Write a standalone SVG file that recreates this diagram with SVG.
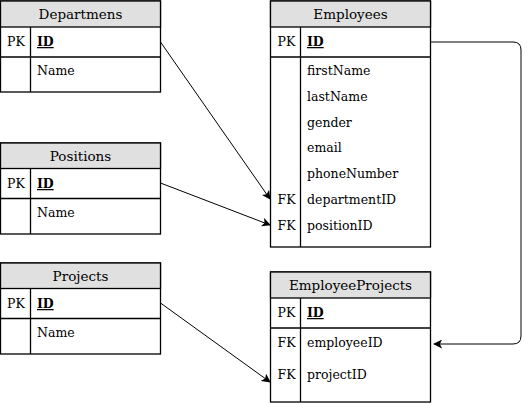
<svg xmlns="http://www.w3.org/2000/svg" width="529" height="403" viewBox="0 0 529 403">
<style>
.box{fill:#fff;stroke:#000;stroke-width:1.3}
.hdr{fill:#e0e0e0;stroke:#000;stroke-width:1.3}
.ln{stroke:#000;stroke-width:1.3;fill:none}
.t{font-family:"DejaVu Serif",serif;font-size:12.5px;fill:#000}
.h{font-family:"DejaVu Serif",serif;font-size:13.5px;fill:#000;text-anchor:middle}
.b{font-weight:bold;text-decoration:underline}
.c{stroke:#000;stroke-width:1;fill:none;marker-end:url(#arr)}
</style>
<defs>
<marker id="arr" viewBox="0 0 10 10" refX="9" refY="5" markerWidth="9" markerHeight="9" markerUnits="userSpaceOnUse" orient="auto">
<path d="M0,0 L10,5 L0,10 L2.5,5 z" fill="#000"/>
</marker>
</defs>
<g id="departmens">
<rect class="box" x="0.5" y="1" width="160" height="91"/>
<rect class="hdr" x="0.5" y="1" width="160" height="26"/>
<line class="ln" x1="0.5" y1="57" x2="160.5" y2="57"/>
<line class="ln" x1="30.5" y1="27" x2="30.5" y2="92"/>
<text class="h" x="80.5" y="19">Departmens</text>
<text class="t" x="7" y="46">PK</text>
<text class="t b" x="37" y="46">ID</text>
<text class="t" x="37" y="75">Name</text>
</g>
<g id="positions">
<rect class="box" x="0.5" y="143" width="160" height="91"/>
<rect class="hdr" x="0.5" y="143" width="160" height="25.5"/>
<line class="ln" x1="0.5" y1="198.5" x2="160.5" y2="198.5"/>
<line class="ln" x1="30.5" y1="168.5" x2="30.5" y2="234"/>
<text class="h" x="80.5" y="161">Positions</text>
<text class="t" x="7" y="188">PK</text>
<text class="t b" x="37" y="188">ID</text>
<text class="t" x="37" y="217">Name</text>
</g>
<g id="projects">
<rect class="box" x="0.5" y="263" width="160" height="91"/>
<rect class="hdr" x="0.5" y="263" width="160" height="25.5"/>
<line class="ln" x1="0.5" y1="318.5" x2="160.5" y2="318.5"/>
<line class="ln" x1="30.5" y1="288.5" x2="30.5" y2="354"/>
<text class="h" x="80.5" y="281">Projects</text>
<text class="t" x="7" y="308">PK</text>
<text class="t b" x="37" y="308">ID</text>
<text class="t" x="37" y="337">Name</text>
</g>
<g id="employees">
<rect class="box" x="270.5" y="1" width="160" height="246"/>
<rect class="hdr" x="270.5" y="1" width="160" height="26"/>
<line class="ln" x1="270.5" y1="57" x2="430.5" y2="57"/>
<line class="ln" x1="300.5" y1="27" x2="300.5" y2="247"/>
<text class="h" x="350.5" y="19">Employees</text>
<text class="t" x="277.5" y="46">PK</text>
<text class="t b" x="307" y="46">ID</text>
<text class="t" x="307" y="75">firstName</text>
<text class="t" x="307" y="101">lastName</text>
<text class="t" x="307" y="127">gender</text>
<text class="t" x="307" y="152">email</text>
<text class="t" x="307" y="178">phoneNumber</text>
<text class="t" x="277.5" y="204">FK</text>
<text class="t" x="307" y="204">departmentID</text>
<text class="t" x="277.5" y="230">FK</text>
<text class="t" x="307" y="230">positionID</text>
</g>
<g id="employeeprojects">
<rect class="box" x="270.5" y="272" width="160" height="130"/>
<rect class="hdr" x="270.5" y="272" width="160" height="26"/>
<line class="ln" x1="270.5" y1="328" x2="430.5" y2="328"/>
<line class="ln" x1="300.5" y1="298" x2="300.5" y2="402"/>
<text class="h" x="350.5" y="290">EmployeeProjects</text>
<text class="t" x="277.5" y="317">PK</text>
<text class="t b" x="307" y="317">ID</text>
<text class="t" x="277.5" y="347">FK</text>
<text class="t" x="307" y="347">employeeID</text>
<text class="t" x="277.5" y="379">FK</text>
<text class="t" x="307" y="379">projectID</text>
</g>
<g id="connectors">
<path class="c" d="M160.5,42 L270,199"/>
<path class="c" d="M160.5,183 L270,225"/>
<path class="c" d="M160.5,303 L270,382"/>
<path class="c" d="M430.5,42 L513,42 Q521,42 521,50 L521,336 Q521,344 513,344 L434,344"/>
</g>
</svg>
